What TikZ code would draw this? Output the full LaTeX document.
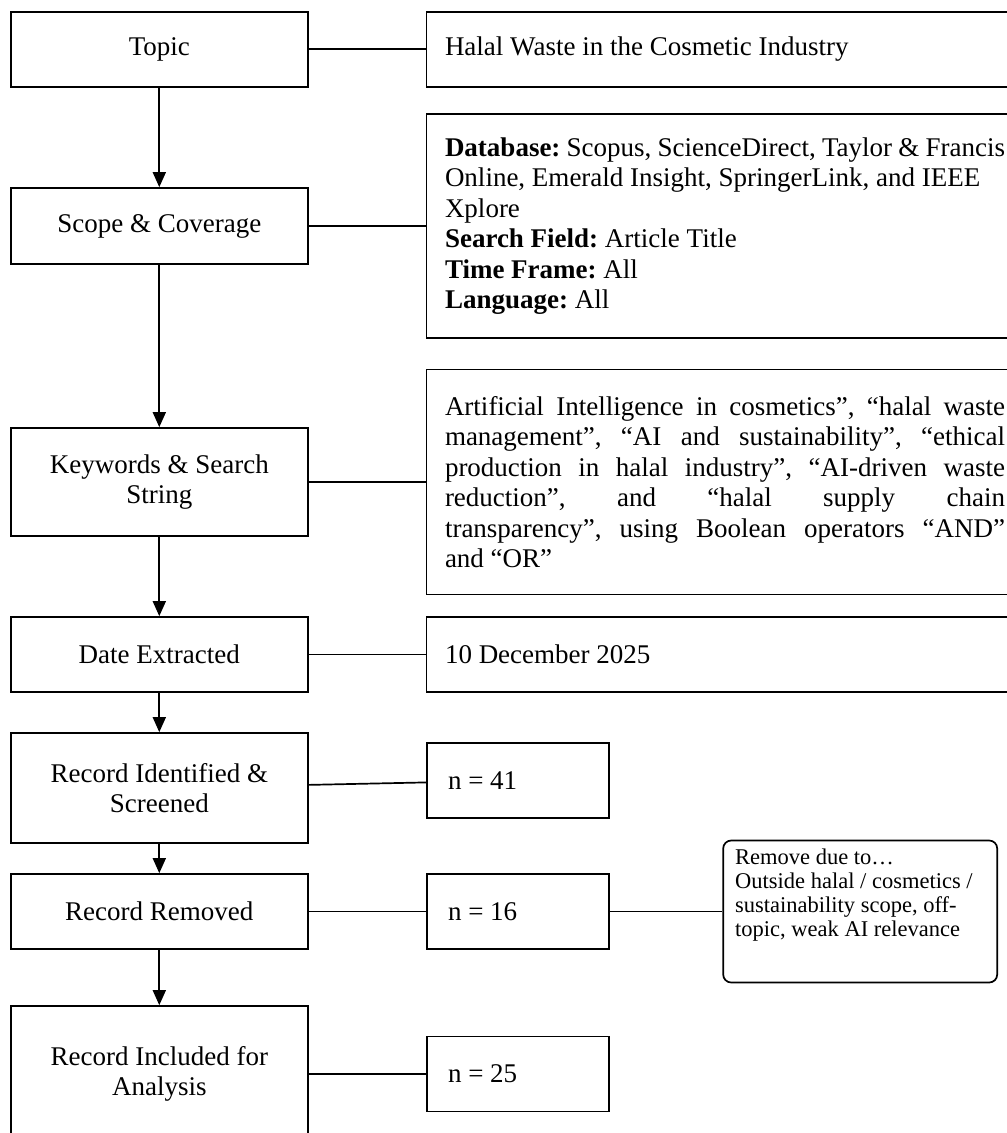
\documentclass[tikz,border=0pt]{standalone}
\usepackage{fontspec}
\setmainfont{Liberation Serif}
\usetikzlibrary{positioning,arrows.meta}
\tikzset{
>={Triangle[length=15pt,width=13pt]}, % filled heads on the flow arrows
every node/.style={font=\fontsize{27}{30.5}\selectfont},
on grid,
stepbox/.style={draw, minimum width=297.3pt, inner sep=0pt, align=center},
infobox/.style={draw, text width=560pt, inner xsep=18.5pt, inner ysep=0pt, align=flush left},
countbox/.style={draw, text width=140pt, inner xsep=21pt, inner ysep=0pt, minimum height=75pt, align=flush left},
notebox/.style={draw, rounded corners=8pt, inner xsep=12pt, inner ysep=8pt, font=\fontsize{22.5}{24}\selectfont}
}
\hyphenpenalty=10000
\exhyphenpenalty=10000

\begin{document}
\frenchspacing
\begin{tikzpicture}[x=1pt,y=1pt,line width=1.7pt]
   \useasboundingbox (0,0) rectangle (1007,-1133);
   \clip (0,0) rectangle (1007,-1133);
   % left column: the steps
   \node[stepbox, minimum height=75pt] (topic) at (159.3,-49.2) {Topic};
   \node[stepbox, minimum height=76pt] (scope) [below=176.8pt of topic] {Scope \& Coverage};
   \node[stepbox, minimum height=108pt] (keys) [below=256pt of scope] {Keywords \& Search\\String};
   \node[stepbox, minimum height=75pt] (date) [below=172.5pt of keys] {Date Extracted};
   \node[stepbox, minimum height=110pt] (ident) [below=133.5pt of date] {Record Identified \&\\Screened};
   \node[stepbox, minimum height=75pt] (removed) [below=123.5pt of ident] {Record Removed};
   \node[stepbox, minimum height=136pt] (included) [below=162.5pt of removed] {Record Included for\\Analysis};
   % right column: the details (cut off by the right edge)
   \node[infobox, minimum height=75pt] (halal) [right=565.7pt of topic] {Halal Waste in the Cosmetic Industry};
   \node[infobox, minimum height=224pt] (db) [right=565.7pt of scope]
     {\textbf{Database:} Scopus, ScienceDirect, Taylor \& Francis\\
      Online, Emerald Insight, SpringerLink, and IEEE\\
      Xplore\\
      \textbf{Search Field:} Article Title\\
      \textbf{Time Frame:} All\\
      \textbf{Language:} All};
   \node[infobox, align=justify, minimum height=225pt] (kwtext) [right=565.7pt of keys]
     {\tolerance=10000 Artificial Intelligence in cosmetics”, “halal waste\linebreak
      management”, “AI and sustainability”, “ethical\linebreak
      production in halal industry”, “AI-driven waste\linebreak
      reduction”, and “halal supply chain\linebreak
      transparency”, using Boolean operators “AND”\linebreak
      and “OR”};
   \node[infobox, minimum height=75pt] (extracted) [right=565.7pt of date] {10 December 2025};
   \node[countbox] (n41) [right=358.7pt of ident, yshift=7.5pt] {n = 41};
   \node[countbox] (n16) [right=358.7pt of removed] {n = 16};
   \node[countbox] (n25) [right=358.7pt of included] {n = 25};
   \node[notebox] (reasons) [right=342.2pt of n16]
     {\parbox[c][126pt][t]{250pt}{\raggedright Remove due to…\\
      Outside halal / cosmetics /\\
      sustainability scope, off-\\
      topic, weak AI relevance}};
   \path[->]
    (topic) edge (scope)
    (scope) edge (keys)
    (keys) edge (date)
    (date) edge (ident)
    (ident) edge (removed)
    (removed) edge (included);
   \path
    (topic) edge (halal)
    (scope) edge (db)
    (keys) edge (kwtext)
    (date) edge (extracted)
    (ident) edge (n41)
    (removed) edge (n16)
    (n16) edge (reasons)
    (included) edge (n25);
\end{tikzpicture}
\end{document}
